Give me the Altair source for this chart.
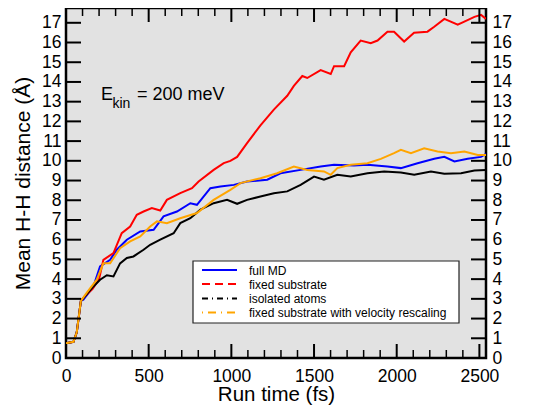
import altair as alt
import pandas as pd

# ---- data ----
series_names = ["full MD", "fixed substrate", "isolated atoms",
                "fixed substrate with velocity rescaling"]
series_colors = ["#0000ff", "#ff0000", "#000000", "#ffa500"]
legend_dash = [[1, 0], [8, 5], [6, 4, 1, 4], [1, 5, 8, 5]]

start_t = [0, 45, 65, 90]
start_y = [0.75, 0.82, 1.3, 2.9]

blue_t = [105, 166, 206, 267, 307, 368, 449, 530, 590, 671, 752, 792, 873, 934,
          1015, 1095, 1217, 1297, 1419, 1540, 1621, 1742, 1823, 1944, 2025,
          2126, 2227, 2288, 2349, 2429, 2510, 2540]
blue_y = [2.96, 3.63, 4.65, 4.98, 5.49, 6.0, 6.42, 6.5, 7.18, 7.43, 7.85, 7.77,
          8.61, 8.7, 8.78, 8.95, 9.04, 9.37, 9.54, 9.71, 9.8, 9.76, 9.8, 9.71,
          9.63, 9.88, 10.1, 10.2, 9.97, 10.1, 10.2, 10.35]

red_t = [110, 160, 200, 226, 287, 337, 388, 428, 469, 519, 570, 610, 691, 762,
         802, 893, 954, 994, 1035, 1095, 1176, 1257, 1338, 1378, 1429, 1459,
         1540, 1601, 1621, 1682, 1722, 1782, 1843, 1884, 1944, 1984, 2045,
         2105, 2186, 2227, 2288, 2369, 2409, 2470, 2510, 2540]
red_y = [3.1, 3.5, 4.0, 4.98, 5.32, 6.33, 6.67, 7.26, 7.43, 7.6, 7.48, 8.02,
         8.36, 8.61, 8.95, 9.54, 9.88, 10.0, 10.2, 10.9, 11.8, 12.6, 13.3,
         13.8, 14.3, 14.2, 14.6, 14.4, 14.8, 14.8, 15.5, 16.1, 15.96, 16.1,
         16.55, 16.55, 16.05, 16.5, 16.55, 16.8, 17.2, 16.9, 17.06, 17.3,
         17.4, 17.2]

black_t = [105, 166, 206, 247, 287, 327, 368, 408, 469, 509, 570, 651, 691,
           752, 813, 893, 974, 1035, 1095, 1176, 1257, 1338, 1419, 1500, 1560,
           1641, 1722, 1823, 1924, 2025, 2106, 2207, 2288, 2389, 2470, 2540]
black_y = [3.04, 3.63, 3.97, 4.2, 4.14, 4.8, 5.07, 5.15, 5.49, 5.74, 6.0, 6.33,
           6.84, 7.09, 7.52, 7.85, 8.02, 7.82, 8.02, 8.19, 8.36, 8.45, 8.78,
           9.2, 9.04, 9.29, 9.2, 9.37, 9.46, 9.41, 9.29, 9.46, 9.34, 9.37,
           9.51, 9.54]

orange_t = [125, 186, 226, 267, 327, 388, 449, 509, 550, 610, 691, 792, 893,
            994, 1055, 1176, 1277, 1378, 1459, 1560, 1601, 1641, 1722, 1823,
            1904, 1984, 2025, 2086, 2166, 2247, 2328, 2409, 2490, 2540]
orange_y = [3.3, 3.97, 4.8, 4.8, 5.57, 5.91, 6.17, 6.67, 6.93, 6.84, 7.09,
            7.35, 8.02, 8.53, 8.87, 9.12, 9.37, 9.71, 9.54, 9.46, 9.29, 9.63,
            9.8, 9.88, 10.1, 10.39, 10.56, 10.39, 10.64, 10.47, 10.39, 10.47,
            10.3, 10.3]

y_ticks = list(range(0, 18))
x_major = [0, 500, 1000, 1500, 2000, 2500]
x_minor = [v for v in range(100, 2600, 100) if v % 500 != 0]

W, H = 420, 350
X_DOM = [0, 2540]
Y_DOM = [0, 17.75]
FONT = "Liberation Sans"

rows = []
for i, (name, ts, ys) in enumerate(zip(series_names,
                                       [blue_t, red_t, black_t, orange_t],
                                       [blue_y, red_y, black_y, orange_y])):
    for t, y in zip(start_t + ts, start_y + ys):
        rows.append({"series": name, "order": i, "t": t, "d": y})
df = pd.DataFrame(rows)

xs = alt.Scale(domain=X_DOM, nice=False, zero=False)
ys_ = alt.Scale(domain=Y_DOM, nice=False)

line_layers = []
for i, (name, col) in enumerate(zip(series_names, series_colors)):
    enc_x = alt.X("t:Q", scale=xs, title="Run time (fs)",
                  axis=alt.Axis(values=x_major, ticks=False, grid=False,
                                domain=False, labelPadding=9,
                                labelFontSize=17.5, titleFontSize=20.5,
                                titleY=42, titleBaseline="alphabetic",
                                labelFont=FONT, titleFont=FONT,
                                titleFontWeight="normal", labelColor="black",
                                titleColor="black", format="d",
                                labelFlush=False)) if i == 0 else \
        alt.X("t:Q", scale=xs, axis=None)
    enc_y = alt.Y("d:Q", scale=ys_, title="Mean H-H distance (Å)",
                  axis=alt.Axis(values=y_ticks, ticks=False, grid=False,
                                domain=False, labelPadding=5,
                                labelFontSize=17.5, titleFontSize=21,
                                titlePadding=8, labelFont=FONT, titleFont=FONT,
                                titleFontWeight="normal", labelColor="black",
                                titleColor="black",
                                labelFlush=False)) if i == 0 else \
        alt.Y("d:Q", scale=ys_, axis=None)
    line_layers.append(
        alt.Chart(df[df["series"] == name]).mark_line(
            strokeWidth=2, clip=True, color=col
        ).encode(x=enc_x, y=enc_y, order="t:Q")
    )

ydf = pd.DataFrame({"v": y_ticks})
right_axis = alt.Chart(ydf).mark_rule(opacity=0).encode(
    y=alt.Y("v:Q", scale=ys_, title=None,
            axis=alt.Axis(orient="right", values=y_ticks, ticks=False,
                          grid=False, domain=False, labelPadding=6,
                          labelFontSize=17.5, labelFont=FONT,
                          labelColor="black", labelFlush=False)),
    x=alt.value(0), x2=alt.value(1),
)

tick_col = "black"
yl = alt.Chart(ydf).mark_rule(color=tick_col, strokeWidth=2).encode(
    y=alt.Y("v:Q", scale=ys_, axis=None), x=alt.value(0), x2=alt.value(15))
yr = alt.Chart(ydf).mark_rule(color=tick_col, strokeWidth=2).encode(
    y=alt.Y("v:Q", scale=ys_, axis=None), x=alt.value(W - 15), x2=alt.value(W))

xmaj = pd.DataFrame({"v": x_major})
xmin = pd.DataFrame({"v": x_minor})
xb_maj = alt.Chart(xmaj).mark_rule(color=tick_col, strokeWidth=2).encode(
    x=alt.X("v:Q", scale=xs, axis=None), y=alt.value(H), y2=alt.value(H - 14))
xt_maj = alt.Chart(xmaj).mark_rule(color=tick_col, strokeWidth=2).encode(
    x=alt.X("v:Q", scale=xs, axis=None), y=alt.value(0), y2=alt.value(14))
xb_min = alt.Chart(xmin).mark_rule(color=tick_col, strokeWidth=1.5).encode(
    x=alt.X("v:Q", scale=xs, axis=None), y=alt.value(H), y2=alt.value(H - 8))
xt_min = alt.Chart(xmin).mark_rule(color=tick_col, strokeWidth=1.5).encode(
    x=alt.X("v:Q", scale=xs, axis=None), y=alt.value(0), y2=alt.value(8))

# annotation E_kin = 200 meV
ann_main = alt.Chart(pd.DataFrame({"s": ["E"]})).mark_text(
    font=FONT, fontSize=18, align="left", baseline="alphabetic", color="black"
).encode(text="s:N", x=alt.value(35), y=alt.value(92))
ann_sub = alt.Chart(pd.DataFrame({"s": ["kin"]})).mark_text(
    font=FONT, fontSize=14, align="left", baseline="alphabetic", color="black"
).encode(text="s:N", x=alt.value(46.5), y=alt.value(100))
ann_rest = alt.Chart(pd.DataFrame({"s": ["= 200 meV"]})).mark_text(
    font=FONT, fontSize=18, align="left", baseline="alphabetic", color="black"
).encode(text="s:N", x=alt.value(71), y=alt.value(92))

# custom legend box
leg_box = alt.Chart(pd.DataFrame({"a": [0]})).mark_rect(
    fill="white", stroke="#222222", strokeWidth=1.2
).encode(x=alt.value(127), x2=alt.value(393), y=alt.value(253),
         y2=alt.value(315))

leg_layers = []
row_y = [262, 276, 290.5, 304.5]
for name, col, dash, ry in zip(series_names, series_colors, legend_dash, row_y):
    leg_layers.append(
        alt.Chart(pd.DataFrame({"s": [name]})).mark_rule(
            color=col, strokeWidth=2, strokeDash=dash
        ).encode(x=alt.value(136), x2=alt.value(171), y=alt.value(ry))
    )
    leg_layers.append(
        alt.Chart(pd.DataFrame({"s": [name]})).mark_text(
            font=FONT, fontSize=12, align="left", baseline="middle",
            color="black"
        ).encode(text="s:N", x=alt.value(183), y=alt.value(ry + 0.5))
    )

chart = alt.layer(
    *line_layers, right_axis, yl, yr, xb_maj, xt_maj, xb_min, xt_min,
    ann_main, ann_sub, ann_rest, leg_box, *leg_layers
).resolve_axis(y="independent", x="independent").properties(
    width=W, height=H,
    autosize=alt.AutoSizeParams(type="none"),
    padding={"left": 58, "top": 0, "right": 40, "bottom": 48},
    background="white",
).configure_view(
    fill="#e2e2e2", stroke="black", strokeWidth=2.5
)

chart.save("out.html", embed_options={"renderer": "svg", "actions": False})
